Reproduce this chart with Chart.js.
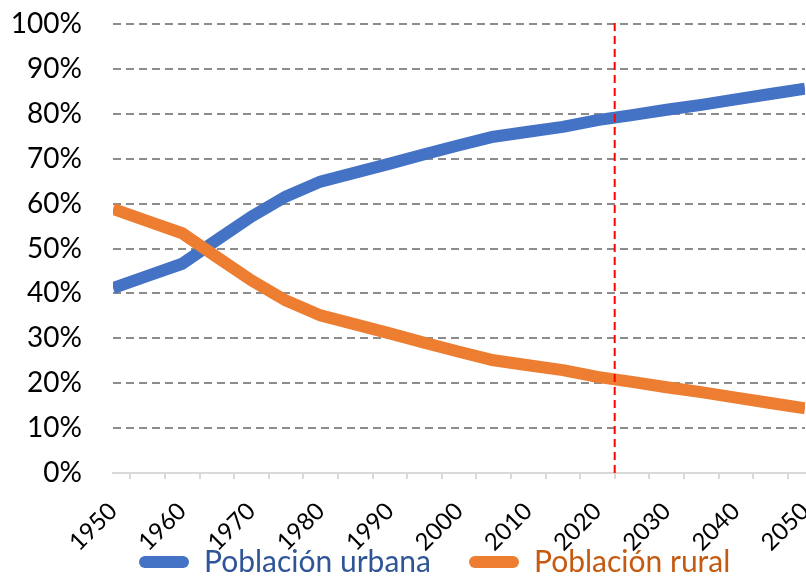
<!DOCTYPE html>
<html>
<head>
<meta charset="utf-8">
<script src="https://cdn.jsdelivr.net/npm/chart.js@4.4.1/dist/chart.umd.min.js"></script>
<style>
  html, body { margin: 0; padding: 0; background: #fff; }
  #wrap { width: 806px; height: 578px; }
</style>
</head>
<body>
<div id="wrap"><canvas id="urban-chart"></canvas></div>
<script>
const years = [1950, 1955, 1960, 1965, 1970, 1975, 1980, 1985, 1990, 1995, 2000,
  2005, 2010, 2015, 2020, 2025, 2030, 2035, 2040, 2045, 2050];
const urbana = [41.2, 43.9, 46.6, 51.9, 57.1, 61.6, 64.9, 66.9, 68.9, 71.0, 73.0,
  74.9, 76.0, 77.1, 78.6, 79.7, 80.9, 82.0, 83.2, 84.4, 85.6];
const rural = [58.8, 56.1, 53.4, 48.1, 42.9, 38.4, 35.1, 33.1, 31.1, 29.0, 27.0,
  25.1, 24.0, 22.9, 21.4, 20.3, 19.1, 18.0, 16.8, 15.6, 14.4];

const yearLabels = [1950, 1960, 1970, 1980, 1990, 2000, 2010, 2020, 2030, 2040, 2050];
const tickMarks = [1952.5, 1957.5, 1962.5, 1967.5, 1972.5, 1977.5, 1982.5, 1987.5,
  1992.5, 1997.5, 2002.5, 2007.5, 2012.5, 2017.5, 2022.5, 2027.5, 2032.5, 2037.5,
  2042.5, 2047.5];
const yTicks = [0, 10, 20, 30, 40, 50, 60, 70, 80, 90, 100];
const projectionYear = 2022.5;

const BLUE = "#4472C4";
const ORANGE = "#ED7D31";

Chart.defaults.font.family = "Lato";
Chart.defaults.animation = false;

// legend is kept short so the x labels are not clipped, then moved into place
const legendShift = {
  id: "legendShift",
  afterLayout(chart) {
    const lg = chart.legend;
    lg.left += 101;
    lg.right += 101;
    lg.top -= 49;
    lg.bottom = chart.height;
  },
};

const allXTicks = yearLabels.concat(tickMarks).sort((a, b) => a - b);

const ctx = document.getElementById("urban-chart").getContext("2d");
const chart = new Chart(ctx, {
  type: "line",
  data: {
    datasets: [
      {
        label: "Proyección",
        data: [{ x: projectionYear, y: 0 }, { x: projectionYear, y: 101 }],
        borderColor: "#FF0000",
        borderWidth: 2,
        borderDash: [8, 5],
        pointRadius: 0,
        clip: false,
      },
      {
        label: "Población rural",
        data: years.map((y, i) => ({ x: y, y: rural[i] })),
        borderColor: ORANGE,
        borderWidth: 12,
        borderJoinStyle: "round",
        pointRadius: 0,
        tension: 0,
      },
      {
        label: "Población urbana",
        data: years.map((y, i) => ({ x: y, y: urbana[i] })),
        borderColor: BLUE,
        borderWidth: 12,
        borderJoinStyle: "round",
        pointRadius: 0,
        tension: 0,
      },
    ],
  },
  options: {
    responsive: true,
    maintainAspectRatio: false,
    layout: { padding: { top: 24, right: 1, left: 0, bottom: 0 } },
    plugins: {
      tooltip: { enabled: false },
      legend: {
        position: "bottom",
        align: "start",
        maxHeight: 20,
        labels: {
          boxWidth: 50,
          boxHeight: 12,
          padding: 38,
          font: { size: 30 },
          generateLabels: () => [
            { text: "Población urbana", fillStyle: BLUE, strokeStyle: BLUE, lineWidth: 0,
              borderRadius: 6, fontColor: "#2F5597", datasetIndex: 2 },
            { text: "Población rural", fillStyle: ORANGE, strokeStyle: ORANGE, lineWidth: 0,
              borderRadius: 6, fontColor: "#C55A11", datasetIndex: 1 },
          ],
        },
      },
    },
    scales: {
      x: {
        type: "linear",
        min: 1950,
        max: 2050,
        afterBuildTicks: (scale) => {
          scale.ticks = allXTicks.map((v) => ({ value: v }));
        },
        afterFit: (scale) => {
          scale.height = 85;
          scale.paddingLeft = 0;
          scale.paddingRight = 0;
        },
        grid: {
          drawOnChartArea: false,
          drawTicks: true,
          tickLength: 6,
          lineWidth: 2,
          color: "#D9D9D9",
          tickColor: (c) =>
            c.tick && yearLabels.includes(c.tick.value) ? "rgba(0,0,0,0)" : "#D9D9D9",
        },
        border: { display: true, color: "#D9D9D9", width: 2 },
        ticks: {
          autoSkip: false,
          minRotation: 45,
          maxRotation: 45,
          padding: 18,
          color: "#000",
          font: { size: 24 },
          callback: (v) => (yearLabels.includes(v) ? String(v) : ""),
        },
      },
      y: {
        min: 0,
        max: 100,
        afterBuildTicks: (scale) => {
          scale.ticks = yTicks.map((v) => ({ value: v }));
        },
        afterFit: (scale) => {
          scale.width = 113;
          scale.paddingTop = 0;
          scale.paddingBottom = 0;
        },
        grid: {
          drawTicks: false,
          lineWidth: 2,
          color: (c) => (c.tick && c.tick.value === 0 ? "rgba(0,0,0,0)" : "#8C8C8C"),
        },
        border: { display: false, dash: [8, 5] },
        ticks: {
          padding: 31,
          color: "#000",
          font: { size: 28 },
          callback: (v) => v + "%",
        },
      },
    },
  },
  plugins: [legendShift],
});
</script>
</body>
</html>
